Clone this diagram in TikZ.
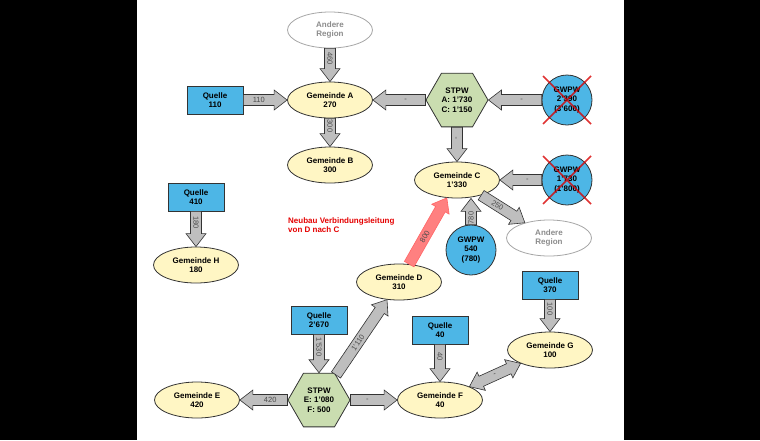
\documentclass[tikz,border=0pt]{standalone}
\usepackage{fontspec}
\setmainfont{Liberation Sans}
\usetikzlibrary{calc,shapes.geometric}
\definecolor{ylw}{HTML}{FFF6C4}
\definecolor{blu}{HTML}{4DB6E6}
\definecolor{grn}{HTML}{CADDB0}
\definecolor{arrg}{HTML}{BEBEBE}
\tikzset{
 base/.style={draw=black!80,line width=0.8pt,font=\bfseries\fontsize{8}{9.5}\selectfont,align=center,inner sep=0pt},
 gem/.style={base,ellipse,fill=ylw,minimum width=85pt,minimum height=36pt},
 oth/.style={base,ellipse,draw=black!35,text=black!45,minimum width=85pt,minimum height=36pt},
 que/.style={base,rectangle,fill=blu,minimum width=56pt,minimum height=28pt},
 gw/.style={base,circle,fill=blu,minimum size=50pt},
 stp/.style={base,regular polygon,regular polygon sides=6,fill=grn,minimum size=62pt},
 arr/.style={fill=arrg,draw=black!80,line width=0.6pt,line join=miter},
 lbl/.style={font=\fontsize{7.5}{8}\selectfont,text=black!70,inner sep=0pt},
 cross/.style={draw=red!85!black,line width=1.6pt,opacity=0.8}
}
\newcommand\barr[4][]{%
 \path (#2) -- (#3) coordinate[pos=0] (bs) coordinate[pos=1] (be);
 \coordinate (bh) at ($(be)!13pt!(bs)$);
 \filldraw[arr,#1] ($(bs)!5.5pt!90:(be)$) -- ($(bh)!5.5pt!-90:(bs)$) -- ($(bh)!10pt!-90:(bs)$) -- (be)
   -- ($(bh)!10pt!90:(bs)$) -- ($(bh)!5.5pt!90:(bs)$) -- ($(bs)!5.5pt!-90:(be)$) -- cycle;
 \path (bs) -- (bh) node[midway,sloped,lbl]{#4};}
\newcommand\darr[3]{%
 \path (#1) -- (#2) coordinate[pos=0] (bs) coordinate[pos=1] (be);
 \coordinate (bh) at ($(be)!13pt!(bs)$);
 \coordinate (bt) at ($(bs)!13pt!(be)$);
 \filldraw[arr] (bs) -- ($(bt)!10pt!90:(be)$) -- ($(bt)!5.5pt!90:(be)$) -- ($(bh)!5.5pt!-90:(bs)$) -- ($(bh)!10pt!-90:(bs)$) -- (be)
   -- ($(bh)!10pt!90:(bs)$) -- ($(bh)!5.5pt!90:(bs)$) -- ($(bt)!5.5pt!-90:(be)$) -- ($(bt)!10pt!-90:(be)$) -- cycle;
 \path (bt) -- (bh) node[midway,sloped,lbl]{#3};}
\begin{document}
\begin{tikzpicture}[x=1pt,y=-1pt]
\fill[black] (0,0) rectangle (760,440);
\fill[white] (137,0) rectangle (624,440);
\node[oth] (ar1) at (330,30) {Andere\\Region};
\node[que] (q1) at (215,100) {Quelle\\110};
\node[gem] (A) at (330,100) {Gemeinde A\\270};
\node[stp] (s1) at (457,100) {STPW\\A: 1'730\\C: 1'150};
\node[gw] (g1) at (567,100) {GWPW\\2'390\\(3'600)};
\node[gem] (B) at (330,165) {Gemeinde B\\300};
\node[gem] (C) at (457,180) {Gemeinde C\\1'330};
\node[gw] (g2) at (567,180) {GWPW\\1'730\\(1'800)};
\node[que] (q2) at (196,197) {Quelle\\410};
\node[gem] (H) at (196,265) {Gemeinde H\\180};
\node[oth] (ar2) at (549,238) {Andere\\Region};
\node[gw] (g3) at (471,250) {GWPW\\540\\(780)};
\node[gem] (D) at (399,282) {Gemeinde D\\310};
\node[que] (q3) at (319,320) {Quelle\\2'670};
\node[que] (q4) at (440,330) {Quelle\\40};
\node[que] (q5) at (550,285) {Quelle\\370};
\node[gem] (G) at (550,350) {Gemeinde G\\100};
\node[stp] (s2) at (319,400) {STPW\\E: 1'080\\F: 500};
\node[gem] (E) at (197,400) {Gemeinde E\\420};
\node[gem] (F) at (440,400) {Gemeinde F\\40};
\node[font=\bfseries\fontsize{8}{9.5}\selectfont,text=red!90!black,align=left,anchor=north west,inner sep=0pt] (txt) at (288,217) {Neubau Verbindungsleitung\\von D nach C};
\draw[cross] ($(g1.center)+(-24,-24)$) -- ($(g1.center)+(24,24)$) ($(g1.center)+(24,-24)$) -- ($(g1.center)+(-24,24)$);
\draw[cross] ($(g2.center)+(-24,-24)$) -- ($(g2.center)+(24,24)$) ($(g2.center)+(24,-24)$) -- ($(g2.center)+(-24,24)$);
\barr{ar1}{A}{460}
\barr{q1}{A}{110}
\barr{A}{B}{300}
\barr{s1}{A}{-}
\barr{g1}{s1}{-}
\barr{s1}{C}{-}
\barr{g2}{C}{-}
\barr{C}{ar2}{250}
\barr{g3.north}{g3.north |- C.south}{780}
\barr{q2}{H}{180}
\barr[fill=red!50,draw=red!60]{D}{C}{800}
\barr{q3}{s2}{1'530}
\barr{s2}{D}{1'110}
\barr{s2}{E}{420}
\barr{s2}{F}{-}
\barr{q4}{F}{40}
\barr{q5}{G}{100}
\darr{F}{G}{-}
\end{tikzpicture}
\end{document}
